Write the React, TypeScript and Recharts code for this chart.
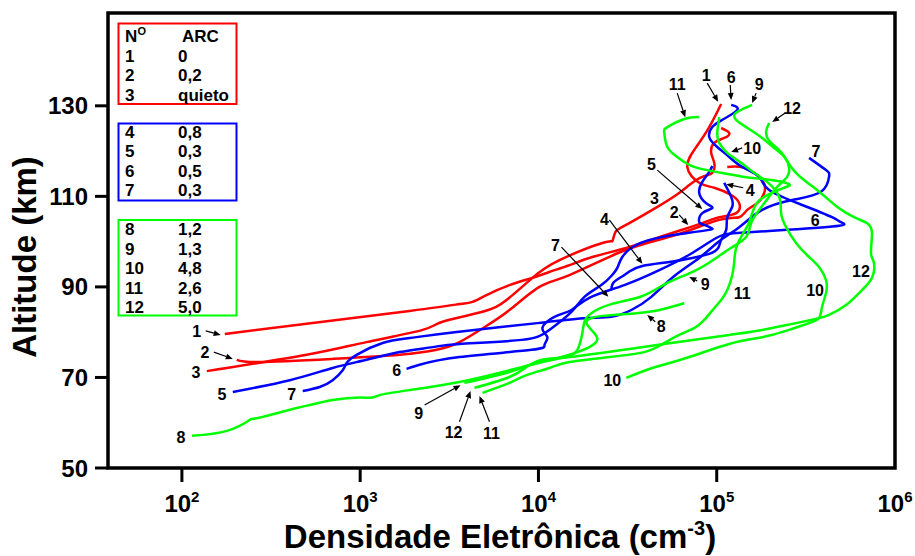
import React from 'react';
import { LineChart, Line, XAxis, YAxis, ReferenceArea, ReferenceDot, ReferenceLine } from 'recharts';

type P = [number, number];

// [electron density (cm^-3), altitude (km)]
const curve1: P[] = [[174,79.6],[1892,84.7],[3606,86.2],[4266,86.7],[5114,88.2],[6879,90.4],[9252,92.0],[11510,93.3],[14920,94.8],[20040,96.6],[31090,98.6],[47640,101.0],[82980,104.1],[103300,105.4],[128500,106.3],[133700,108.5],[120500,110.3],[96830,111.9],[79800,113.0],[68380,116.5],[76740,120.9],[90780,125.3],[105900,130.4]];
const curve2: P[] = [[203,73.9],[273,73.4],[701,74.1],[1663,75.0],[2682,76.1],[3606,77.8],[4977,81.1],[6879,84.9],[10120,90.0],[14920,92.6],[31090,98.2],[59290,101.5],[103300,104.8],[133700,105.4],[148300,107.0],[168700,108.5],[184500,110.7],[179800,113.6],[142600,116.3],[114600,116.5]];
const curve3: P[] = [[138,71.4],[501,75.0],[1086,77.8],[2239,80.5],[2897,82.3],[4853,84.5],[6622,87.1],[9252,92.0],[13120,95.9],[22830,99.7],[25950,100.1],[26640,101.5],[27690,102.6],[32340,104.1],[43530,107.0],[59290,110.3],[70150,112.5],[82980,114.3],[94420,115.2],[96830,117.4],[93120,119.6],[96830,121.8],[110200,122.9],[117500,124.0],[105900,125.1]];
const curve4: P[] = [[25620,89.3],[26300,90.9],[29140,92.2],[32340,93.4],[38280,94.6],[54190,95.5],[72940,96.4],[90780,97.3],[101900,98.6],[105900,100.4],[113000,102.6],[114600,105.4],[122200,107.7],[120500,109.9],[110200,113.0]];
const curve5: P[] = [[193,66.8],[403,69.4],[701,72.1],[1086,73.9],[1663,75.6],[2547,76.7],[3606,77.4],[8035,78.3],[11510,80.5],[15310,84.5],[18110,87.8],[22530,90.4],[25620,92.4],[27690,94.2],[29520,96.6],[35420,99.3],[48880,101.0],[68380,101.9],[90780,102.6],[93120,103.0],[85110,103.7],[79800,104.3],[82980,106.3],[94420,107.4],[87300,108.5],[79800,110.7],[82980,113.2],[90780,115.4],[94420,116.7]];
const curve6: P[] = [[1820,71.9],[2155,72.8],[3606,74.5],[9137,76.1],[10810,77.2],[11220,78.9],[10520,80.9],[12290,83.4],[15310,84.9],[19300,87.6],[30310,90.4],[47640,93.7],[70150,97.1],[99310,100.8],[130300,101.9],[248300,102.6],[485300,103.5],[497800,104.3],[443600,105.4],[301300,108.1],[196800,111.4],[173000,114.3],[139000,116.5],[117500,118.7],[100700,120.9],[90780,123.1],[94420,125.3],[107400,126.9],[130300,129.1],[120500,130.2]];
const curve7: P[] = [[476,67.0],[593,67.9],[701,69.4],[798,71.6],[840,73.2],[955,75.0],[1336,77.6],[1892,78.7],[3381,80.0],[9866,82.0],[18110,83.1],[25620,83.4],[33190,84.9],[42970,87.8],[57830,92.4],[79800,96.4],[103300,100.1],[133700,103.2],[179800,107.0],[264800,109.2],[384600,111.0],[426600,114.3],[410300,115.8],[329600,118.5]];
const curve8: P[] = [[114,57.1],[179,58.2],[240,60.6],[284,61.3],[701,65.0],[1130,65.5],[1285,66.1],[1892,67.2],[3606,69.0],[6879,71.6],[10520,73.4],[14920,75.0],[19300,76.7],[21400,78.5],[19810,80.5],[18570,82.3],[19810,83.1],[22830,83.6],[35420,84.2],[47640,84.9],[65750,86.4]];
const curve9: P[] = [[3846,68.8],[6879,71.2],[10120,73.4],[14920,74.7],[16980,77.2],[17630,79.8],[18110,82.3],[19810,84.2],[25620,86.2],[38280,88.0],[52840,90.9],[74790,93.5],[99310,96.4],[122200,98.8],[146200,101.0],[156000,104.1],[173000,107.0],[196800,109.9],[218300,112.1],[248300,114.3],[254700,116.3],[242100,118.5],[209900,120.7],[179800,122.9],[146200,125.3],[128500,126.9],[125300,128.0],[133700,128.9],[158100,130.2]];
const curve10: P[] = [[31090,69.9],[43530,72.1],[67440,74.3],[117500,77.4],[179800,78.9],[254700,80.5],[329600,82.0],[374900,83.1],[389900,85.6],[410300,88.7],[410300,91.5],[374900,94.4],[329600,96.6],[278600,99.7],[244900,103.2],[229600,106.3],[223900,109.9],[191800,113.2],[162200,115.2],[137100,117.4],[114600,119.6],[103300,121.8],[100700,124.0],[103300,127.5]];
const curve11: P[] = [[4853,66.6],[6879,68.8],[8570,70.5],[11510,72.1],[14920,73.4],[24980,74.5],[39240,75.6],[48880,77.2],[61600,79.4],[74790,80.9],[85110,82.7],[96830,85.3],[105900,87.1],[114600,89.3],[122200,92.6],[125300,95.5],[128500,98.6],[139000,101.5],[152100,104.3],[166300,108.3],[196800,110.5],[238800,111.9],[254700,112.7],[201800,113.6],[142600,114.3],[105900,115.2],[74790,116.5],[60050,118.7],[52840,120.9],[50780,124.0],[52840,125.3],[65750,127.1],[79800,127.5]];
const curve12: P[] = [[4374,67.7],[6879,70.1],[8570,72.3],[10520,73.9],[14920,74.5],[35420,76.5],[117500,79.4],[179800,80.5],[278600,82.0],[374900,83.1],[426600,83.8],[531100,86.0],[653100,89.3],[743000,92.0],[762100,95.3],[733100,97.5],[743000,101.9],[696600,104.1],[588800,105.4],[473200,107.7],[384600,110.7],[309000,113.6],[261200,116.5],[229600,119.8],[201800,121.8],[189300,124.0],[196800,126.2]];

const redCurves = [curve1, curve2, curve3];
const blueCurves = [curve4, curve5, curve6, curve7];
const greenCurves = [curve8, curve9, curve10, curve11, curve12];

const xTicks = [100, 1000, 10000, 100000, 1000000];
const yTicks = [50, 70, 90, 110, 130];

// curve number labels: [text, density, altitude]
const curveLabels: [string, number, number][] = [
  ['1',121,80.3],['2',134.5,75.6],['3',120,71.2],['5',167.5,66.3],['7',413,66.3],['6',1601,71.6],['8',98.7,56.8],
  ['9',2127,62.1],['12',3339,58.0],['11',5453,57.7],['10',25950,69.4],['8',48880,81.4],['9',86170,90.6],
  ['11',139000,88.7],['10',356200,89.3],['12',644200,93.5],['6',356200,104.8],['7',360600,120.0],
  ['12',264800,129.5],['9',173000,134.8],['6',120500,136.4],['1',87300,136.8],['11',60050,134.8],
  ['10',158100,120.7],['5',42970,117.2],['4',154000,111.4],['3',44690,109.6],['2',57830,106.6],
  ['4',23420,105.0],['7',12450,99.3],
];
// arrows: [fromDensity, fromAlt, toDensity, toAlt]
const labelArrows: [number, number, number, number][] = [
  [136,80.3,165,79.4],[151,75.6,193,74.1],[2298,63.9,3656,68.3],[3606,60.2,4159,67.0],[5314,60.2,4670,65.9],
  [45200,82.3,40780,83.8],[77800,91.3,70150,92.2],[242100,128.4,204700,126.4],[166300,132.8,158100,130.6],
  [119000,134.6,120500,131.3],[88440,135.0,101900,130.9],[60050,132.8,66600,127.5],[139000,120.7,120500,119.8],
  [46410,115.8,82980,107.2],[140700,111.9,113000,112.7],[61600,105.9,69200,103.7],[24980,104.8,38280,95.1],
  [13460,98.8,24670,87.8],
];

const legendRed: [string, string][] = [['1','0'],['2','0,2'],['3','quieto']];
const legendBlue: [string, string][] = [['4','0,8'],['5','0,3'],['6','0,5'],['7','0,3']];
const legendGreen: [string, string][] = [['8','1,2'],['9','1,3'],['10','4,8'],['11','2,6'],['12','5,0']];

const RED = '#ff0000';
const BLUE = '#0000ff';
const GREEN = '#00ff00';
const FONT = '"Liberation Sans", Arial, Helvetica, sans-serif';

const toPts = (a: P[]) => a.map(([n, alt]) => ({ n, alt }));

const XTick = (props: any) => {
  const { x, y, payload } = props;
  const exp = Math.round(Math.log10(payload.value));
  return (
    <g>
      {exp < 6 && <line x1={x} y1={y - 14} x2={x} y2={y} stroke="#000" strokeWidth={3} />}
      <text x={x} y={y + 30} textAnchor="middle" fontFamily={FONT} fontWeight="bold" fontSize={24} fill="#000">
        10<tspan dy={-10} fontSize={15}>{exp}</tspan>
      </text>
    </g>
  );
};

const LabelShape = (text: string) => (p: any) => (
  <text x={p.cx} y={p.cy + 6} textAnchor="middle" fontFamily={FONT} fontWeight="bold" fontSize={16} fill="#000">{text}</text>
);

const ArrowShape = (p: any) => {
  const { x1, y1, x2, y2 } = p;
  const ang = Math.atan2(y2 - y1, x2 - x1);
  const L = 7, W = 3;
  const bx = x2 - L * Math.cos(ang), by = y2 - L * Math.sin(ang);
  const px = -Math.sin(ang) * W, py = Math.cos(ang) * W;
  return (
    <g>
      <line x1={x1} y1={y1} x2={bx} y2={by} stroke="#000" strokeWidth={1.2} />
      <polygon points={`${x2},${y2} ${bx + px},${by + py} ${bx - px},${by - py}`} fill="#000" />
    </g>
  );
};

const LegendBox = ({ color, top, height, rows, header, firstBase }: any) => (
  <g>
    <rect x={118.5} y={top} width={118} height={height} fill="none" stroke={color} strokeWidth={2} />
    {header && (
      <g>
        <text x={125} y={42} fontFamily={FONT} fontWeight="bold" fontSize={17}>N</text>
        <text x={137.5} y={35} fontFamily={FONT} fontWeight="bold" fontSize={11}>O</text>
        <text x={182} y={42} fontFamily={FONT} fontWeight="bold" fontSize={17}>ARC</text>
      </g>
    )}
    {rows.map((r: [string, string], i: number) => (
      <g key={i}>
        <text x={125} y={firstBase + i * 19.5} fontFamily={FONT} fontWeight="bold" fontSize={17}>{r[0]}</text>
        <text x={178} y={firstBase + i * 19.5} fontFamily={FONT} fontWeight="bold" fontSize={17}>{r[1]}</text>
      </g>
    ))}
  </g>
);

export default function App() {
  return (
    <div style={{ position: 'absolute', left: 0, top: 0, width: 915, height: 556, background: '#fff' }}>
      <LineChart width={915} height={556} margin={{ top: 13, right: 20, bottom: 0, left: 0 }}>
        <XAxis
          dataKey="n" type="number" scale="log" domain={[38.5, 1000000]} allowDataOverflow
          ticks={xTicks} interval={0} height={88} axisLine={false} tickLine={false}
          tickSize={14} tickMargin={0} tick={<XTick />}
        />
        <YAxis
          dataKey="alt" type="number" domain={[50, 150.5]} allowDataOverflow ticks={yTicks} interval={0}
          width={108} axisLine={false} tickSize={13} tickMargin={7}
          tickLine={{ stroke: '#000', strokeWidth: 3 }}
          tick={{ fontSize: 24, fontWeight: 'bold', fill: '#000', fontFamily: FONT }}
        />
        <ReferenceArea x1={38.5} x2={1000000} y1={50} y2={150.5} fill="none" stroke="#000" strokeWidth={3.5} ifOverflow="visible" />
        {redCurves.map((c, i) => (
          <Line key={'r' + i} data={toPts(c)} dataKey="alt" stroke={RED} strokeWidth={2.5} strokeLinejoin="round" dot={false} activeDot={false} isAnimationActive={false} type="natural" />
        ))}
        {blueCurves.map((c, i) => (
          <Line key={'b' + i} data={toPts(c)} dataKey="alt" stroke={BLUE} strokeWidth={2.5} strokeLinejoin="round" dot={false} activeDot={false} isAnimationActive={false} type="natural" />
        ))}
        {greenCurves.map((c, i) => (
          <Line key={'g' + i} data={toPts(c)} dataKey="alt" stroke={GREEN} strokeWidth={2.5} strokeLinejoin="round" dot={false} activeDot={false} isAnimationActive={false} type="natural" />
        ))}
        {labelArrows.map((a, i) => (
          <ReferenceLine key={'a' + i} segment={[{ x: a[0], y: a[1] }, { x: a[2], y: a[3] }]} shape={ArrowShape} ifOverflow="visible" />
        ))}
        {curveLabels.map((l, i) => (
          <ReferenceDot key={'l' + i} x={l[1]} y={l[2]} r={1} shape={LabelShape(l[0])} ifOverflow="visible" />
        ))}
      </LineChart>
      <svg width={915} height={556} style={{ position: 'absolute', left: 0, top: 0, pointerEvents: 'none' }}>
        <LegendBox color={RED} top={23.5} height={80.5} rows={legendRed} header firstBase={61.5} />
        <LegendBox color={BLUE} top={123.5} height={77} rows={legendBlue} firstBase={137.5} />
        <LegendBox color={GREEN} top={220} height={95.5} rows={legendGreen} firstBase={235} />
        <text x={36} y={257} transform="rotate(-90, 36, 257)" textAnchor="middle" fontFamily={FONT} fontWeight="bold" fontSize={33} fill="#000">Altitude (km)</text>
        <text x={500} y={548} textAnchor="middle" fontFamily={FONT} fontWeight="bold" fontSize={33} fill="#000">
          Densidade Eletrônica (cm<tspan dy={-13} fontSize={20}>-3</tspan><tspan dy={13}>)</tspan>
        </text>
      </svg>
    </div>
  );
}
